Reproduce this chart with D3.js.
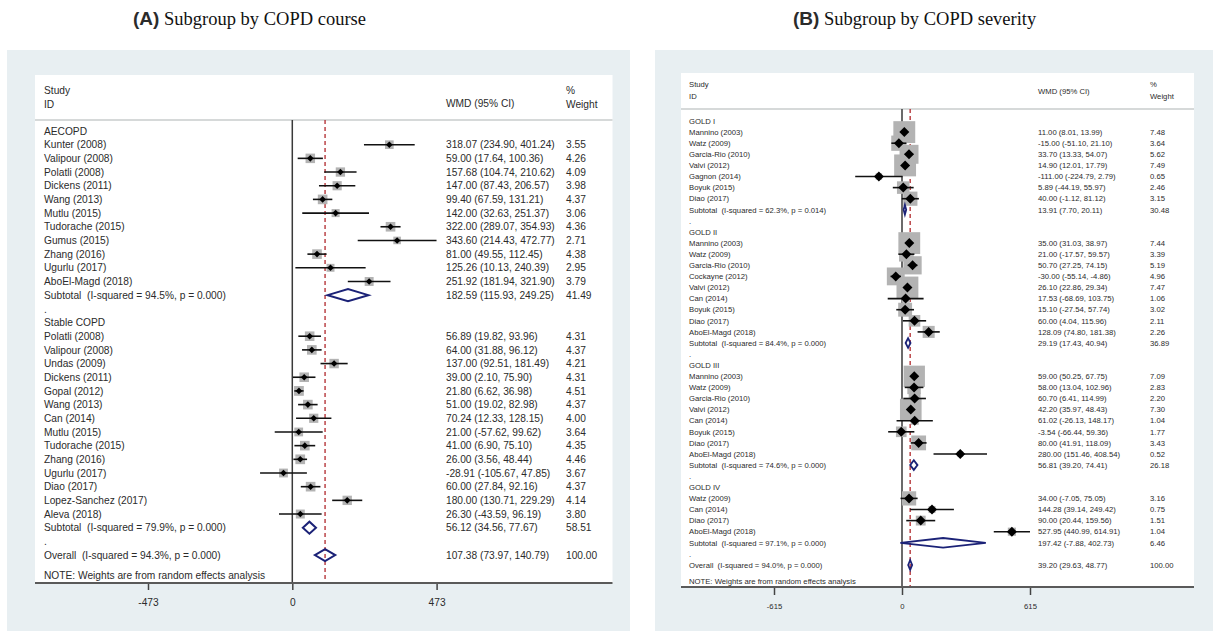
<!DOCTYPE html>
<html>
<head>
<meta charset="utf-8">
<script src="https://cdnjs.cloudflare.com/ajax/libs/d3/7.8.5/d3.min.js"></script>
<style>
  body { margin: 0; background: #fff; }
  text { font-family: "Liberation Sans", Arial, sans-serif; fill: #2b2b2b; white-space: pre; }
</style>
</head>
<body>
<div id="chart"></div>
<script>
// ---- panel A: subgroup by COPD course ----
const aGroups = ["AECOPD", "Stable COPD"];
const aStudy = ["Kunter (2008)", "Valipour (2008)", "Polatli (2008)", "Dickens (2011)", "Wang (2013)",
  "Mutlu (2015)", "Tudorache (2015)", "Gumus (2015)", "Zhang (2016)", "Ugurlu (2017)", "AboEl-Magd (2018)",
  "Polatli (2008)", "Valipour (2008)", "Undas (2009)", "Dickens (2011)", "Gopal (2012)", "Wang (2013)",
  "Can (2014)", "Mutlu (2015)", "Tudorache (2015)", "Zhang (2016)", "Ugurlu (2017)", "Diao (2017)",
  "Lopez-Sanchez (2017)", "Aleva (2018)"];
const aGroup = [0,0,0,0,0,0,0,0,0,0,0, 1,1,1,1,1,1,1,1,1,1,1,1,1,1];
const aEst = [318.07, 59.00, 157.68, 147.00, 99.40, 142.00, 322.00, 343.60, 81.00, 125.26, 251.92,
  56.89, 64.00, 137.00, 39.00, 21.80, 51.00, 70.24, 21.00, 41.00, 26.00, -28.91, 60.00, 180.00, 26.30];
const aLow = [234.90, 17.64, 104.74, 87.43, 67.59, 32.63, 289.07, 214.43, 49.55, 10.13, 181.94,
  19.82, 31.88, 92.51, 2.10, 6.62, 19.02, 12.33, -57.62, 6.90, 3.56, -105.67, 27.84, 130.71, -43.59];
const aHigh = [401.24, 100.36, 210.62, 206.57, 131.21, 251.37, 354.93, 472.77, 112.45, 240.39, 321.90,
  93.96, 96.12, 181.49, 75.90, 36.98, 82.98, 128.15, 99.62, 75.10, 48.44, 47.85, 92.16, 229.29, 96.19];
const aWeight = [3.55, 4.26, 4.09, 3.98, 4.37, 3.06, 4.36, 2.71, 4.38, 2.95, 3.79,
  4.31, 4.37, 4.21, 4.31, 4.51, 4.37, 4.00, 3.64, 4.35, 4.46, 3.67, 4.37, 4.14, 3.80];
const aSubI2 = ["94.5%", "79.9%"];
const aSubP = ["0.000", "0.000"];
const aSubEst = [182.59, 56.12];
const aSubLow = [115.93, 34.56];
const aSubHigh = [249.25, 77.67];
const aSubWeight = [41.49, 58.51];
const aOverall = [107.38, 73.97, 140.79, 100.00];
const aOverallHet = ["94.3%", "0.000"];
const aTicks = [-473, 0, 473];

// ---- panel B: subgroup by COPD severity ----
const bGroups = ["GOLD I", "GOLD II", "GOLD III", "GOLD IV"];
const bStudy = ["Mannino (2003)", "Watz (2009)", "Garcia-Rio (2010)", "Valvi (2012)", "Gagnon (2014)", "Boyuk (2015)", "Diao (2017)",
  "Mannino (2003)", "Watz (2009)", "Garcia-Rio (2010)", "Cockayne (2012)", "Valvi (2012)", "Can (2014)", "Boyuk (2015)", "Diao (2017)", "AboEl-Magd (2018)",
  "Mannino (2003)", "Watz (2009)", "Garcia-Rio (2010)", "Valvi (2012)", "Can (2014)", "Boyuk (2015)", "Diao (2017)", "AboEl-Magd (2018)",
  "Watz (2009)", "Can (2014)", "Diao (2017)", "AboEl-Magd (2018)"];
const bGroup = [0,0,0,0,0,0,0, 1,1,1,1,1,1,1,1,1, 2,2,2,2,2,2,2,2, 3,3,3,3];
const bEst = [11.00, -15.00, 33.70, 14.90, -111.00, 5.89, 40.00,
  35.00, 21.00, 50.70, -30.00, 26.10, 17.53, 15.10, 60.00, 128.09,
  59.00, 58.00, 60.70, 42.20, 61.02, -3.54, 80.00, 280.00,
  34.00, 144.28, 90.00, 527.95];
const bLow = [8.01, -51.10, 13.33, 12.01, -224.79, -44.19, -1.12,
  31.03, -17.57, 27.25, -55.14, 22.86, -68.69, -27.54, 4.04, 74.80,
  50.25, 13.04, 6.41, 35.97, -26.13, -66.44, 41.91, 151.46,
  -7.05, 39.14, 20.44, 440.99];
const bHigh = [13.99, 21.10, 54.07, 17.79, 2.79, 55.97, 81.12,
  38.97, 59.57, 74.15, -4.86, 29.34, 103.75, 57.74, 115.96, 181.38,
  67.75, 102.96, 114.99, 48.43, 148.17, 59.36, 118.09, 408.54,
  75.05, 249.42, 159.56, 614.91];
const bWeight = [7.48, 3.64, 5.62, 7.49, 0.65, 2.46, 3.15,
  7.44, 3.39, 5.19, 4.96, 7.47, 1.06, 3.02, 2.11, 2.26,
  7.09, 2.83, 2.20, 7.30, 1.04, 1.77, 3.43, 0.52,
  3.16, 0.75, 1.51, 1.04];
const bSubI2 = ["62.3%", "84.4%", "74.6%", "97.1%"];
const bSubP = ["0.014", "0.000", "0.000", "0.000"];
const bSubEst = [13.91, 29.19, 56.81, 197.42];
const bSubLow = [7.70, 17.43, 39.20, -7.88];
const bSubHigh = [20.11, 40.94, 74.41, 402.73];
const bSubWeight = [30.48, 36.89, 26.18, 6.46];
const bOverall = [39.20, 29.63, 48.77, 100.00];
const bOverallHet = ["94.0%", "0.000"];
const bTicks = [-615, 0, 615];

const NAVY = "#1b2277";
const RED = "#b0282c";
const BOX = "#b3b3b3";

function buildRows(groups, study, group, est, low, high, weight, subI2, subP, subEst, subLow, subHigh, subW, overall, het) {
  const rows = [];
  groups.forEach((g, gi) => {
    rows.push({type: "head", label: g});
    study.forEach((s, i) => {
      if (group[i] === gi) rows.push({type: "study", label: s, est: est[i], lo: low[i], hi: high[i], w: weight[i]});
    });
    rows.push({type: "sub", label: `Subtotal  (I-squared = ${subI2[gi]}, p = ${subP[gi]})`,
      est: subEst[gi], lo: subLow[gi], hi: subHigh[gi], w: subW[gi]});
    rows.push({type: "dot", label: "."});
  });
  rows.push({type: "sub", label: `Overall  (I-squared = ${het[0]}, p = ${het[1]})`,
    est: overall[0], lo: overall[1], hi: overall[2], w: overall[3]});
  rows.forEach((r, i) => { r.idx = i; });
  rows.push({type: "note", label: "NOTE: Weights are from random effects analysis", idx: rows.length + 0.5});
  return rows;
}

const svg = d3.select("#chart").append("svg").attr("width", 1213).attr("height", 631);

function drawPanel(cfg) {
  const g = svg.append("g");
  const rows = cfg.rows;

  g.append("rect").attr("x", cfg.bg[0]).attr("y", cfg.bg[1]).attr("width", cfg.bg[2]).attr("height", cfg.bg[3])
    .attr("fill", "#e8eff2");
  g.append("rect").attr("x", cfg.left).attr("y", cfg.top).attr("width", cfg.right - cfg.left)
    .attr("height", cfg.axisY - cfg.top).attr("fill", "#fff");

  const x = d3.scaleLinear().domain(cfg.domain).range(cfg.range);
  const y = d3.scaleLinear().domain([0, 1]).range([cfg.y0, cfg.y0 + cfg.step]);
  const base = cfg.fs * 0.36;

  // header
  g.append("line").attr("x1", cfg.left).attr("x2", cfg.right).attr("y1", cfg.headY).attr("y2", cfg.headY)
    .attr("stroke", "#c9cccd").attr("stroke-width", 1.6);
  const hdr = [["Study", cfg.labelX, cfg.hy1], ["ID", cfg.labelX, cfg.hy2], ["WMD (95% CI)", cfg.ciX, cfg.ciHY],
    ["%", cfg.wX, cfg.hy1], ["Weight", cfg.wX, cfg.hy2]];
  g.selectAll("text.hdr").data(hdr).join("text").attr("class", "hdr")
    .attr("x", d => d[1]).attr("y", d => d[2] + base).attr("font-size", cfg.fs).text(d => d[0]);

  // reference lines
  g.append("line").attr("x1", x(0)).attr("x2", x(0)).attr("y1", cfg.headY).attr("y2", cfg.axisY)
    .attr("stroke", "#3a3a3a").attr("stroke-width", 1.5);
  const ov = rows.find(r => r.label.startsWith("Overall"));
  g.append("line").attr("x1", x(ov.est)).attr("x2", x(ov.est)).attr("y1", cfg.headY).attr("y2", cfg.axisY)
    .attr("stroke", RED).attr("stroke-width", 1.3).attr("stroke-dasharray", "4,3");

  // labels
  g.selectAll("text.lab").data(rows).join("text").attr("class", "lab")
    .attr("x", cfg.labelX).attr("y", d => y(d.idx) + base).attr("font-size", cfg.fs).text(d => d.label);

  const est = rows.filter(r => r.type === "study" || r.type === "sub");
  g.selectAll("text.ci").data(est).join("text").attr("class", "ci")
    .attr("x", cfg.ciX).attr("y", d => y(d.idx) + base).attr("font-size", cfg.fs)
    .text(d => `${d.est.toFixed(2)} (${d.lo.toFixed(2)}, ${d.hi.toFixed(2)})`);
  g.selectAll("text.wt").data(est).join("text").attr("class", "wt")
    .attr("x", cfg.wX).attr("y", d => y(d.idx) + base).attr("font-size", cfg.fs)
    .text(d => d.w.toFixed(2));

  // studies
  const st = rows.filter(r => r.type === "study");
  g.selectAll("rect.box").data(st).join("rect").attr("class", "box")
    .attr("x", d => x(d.est) - cfg.boxK * Math.sqrt(d.w) / 2)
    .attr("y", d => y(d.idx) - cfg.boxK * Math.sqrt(d.w) / 2)
    .attr("width", d => cfg.boxK * Math.sqrt(d.w)).attr("height", d => cfg.boxK * Math.sqrt(d.w))
    .attr("fill", BOX);
  g.selectAll("line.ci").data(st).join("line").attr("class", "ci")
    .attr("x1", d => x(d.lo)).attr("x2", d => x(d.hi)).attr("y1", d => y(d.idx)).attr("y2", d => y(d.idx))
    .attr("stroke", "#111").attr("stroke-width", cfg.ciW);
  const r = cfg.dot;
  g.selectAll("path.pt").data(st).join("path").attr("class", "pt")
    .attr("d", d => `M${x(d.est) - r},${y(d.idx)}L${x(d.est)},${y(d.idx) - r}L${x(d.est) + r},${y(d.idx)}L${x(d.est)},${y(d.idx) + r}Z`)
    .attr("fill", "#000");

  // pooled diamonds
  const sb = rows.filter(r => r.type === "sub");
  const h = cfg.subH;
  g.selectAll("path.sub").data(sb).join("path").attr("class", "sub")
    .attr("d", d => `M${x(d.lo)},${y(d.idx)}L${x(d.est)},${y(d.idx) - h}L${x(d.hi)},${y(d.idx)}L${x(d.est)},${y(d.idx) + h}Z`)
    .attr("fill", "none").attr("stroke", NAVY).attr("stroke-width", cfg.subW).attr("stroke-linejoin", "miter");

  // axis
  const ax = g.append("g").attr("transform", `translate(0,${cfg.axisY})`)
    .call(d3.axisBottom(x).tickValues(cfg.ticks).tickSize(cfg.tickLen).tickPadding(cfg.tickPad).tickFormat(d => String(d)));
  ax.select(".domain").remove();
  ax.selectAll(".tick line").attr("stroke", "#444").attr("stroke-width", 1.5);
  ax.selectAll(".tick text").attr("font-size", cfg.fs).attr("font-family", "Liberation Sans, Arial, sans-serif").attr("fill", "#2b2b2b");
  g.append("line").attr("x1", cfg.left).attr("x2", cfg.right).attr("y1", cfg.axisY).attr("y2", cfg.axisY)
    .attr("stroke", "#5a5a5a").attr("stroke-width", 2);

  // title
  const t = svg.append("text").attr("x", cfg.titleX).attr("y", 25);
  t.append("tspan").attr("font-weight", "bold").attr("font-size", 19).text(cfg.titleTag);
  t.append("tspan").attr("font-family", "Liberation Serif, Times New Roman, serif").attr("font-size", 18.5)
    .attr("fill", "#111").text(" " + cfg.title);
}

drawPanel({
  rows: buildRows(aGroups, aStudy, aGroup, aEst, aLow, aHigh, aWeight, aSubI2, aSubP, aSubEst, aSubLow, aSubHigh, aSubWeight, aOverall, aOverallHet),
  bg: [7, 50, 623, 581], left: 35, right: 612.5, top: 75, axisY: 583, headY: 120,
  domain: [-473, 473], range: [148, 436.6], ticks: aTicks,
  y0: 131, step: 13.68, fs: 10.2, hy1: 90, hy2: 104, ciHY: 103,
  labelX: 44, ciX: 446, wX: 566,
  boxK: 4.6, dot: 3.3, ciW: 1.6, subH: 6, subW: 2,
  tickLen: 7, tickPad: 9,
  titleX: 133, titleTag: "(A)", title: "Subgroup by COPD course"
});

drawPanel({
  rows: buildRows(bGroups, bStudy, bGroup, bEst, bLow, bHigh, bWeight, bSubI2, bSubP, bSubEst, bSubLow, bSubHigh, bSubWeight, bOverall, bOverallHet),
  bg: [655, 50, 560, 581], left: 681, right: 1194, top: 73, axisY: 587, headY: 109,
  domain: [-615, 615], range: [774, 1030], ticks: bTicks,
  y0: 121, step: 11.1, fs: 7.7, hy1: 84, hy2: 96, ciHY: 91,
  labelX: 689, ciX: 1038, wX: 1150,
  boxK: 8, dot: 5, ciW: 1.6, subH: 4.8, subW: 1.8,
  tickLen: 8, tickPad: 9,
  titleX: 793, titleTag: "(B)", title: "Subgroup by COPD severity"
});
</script>
</body>
</html>
